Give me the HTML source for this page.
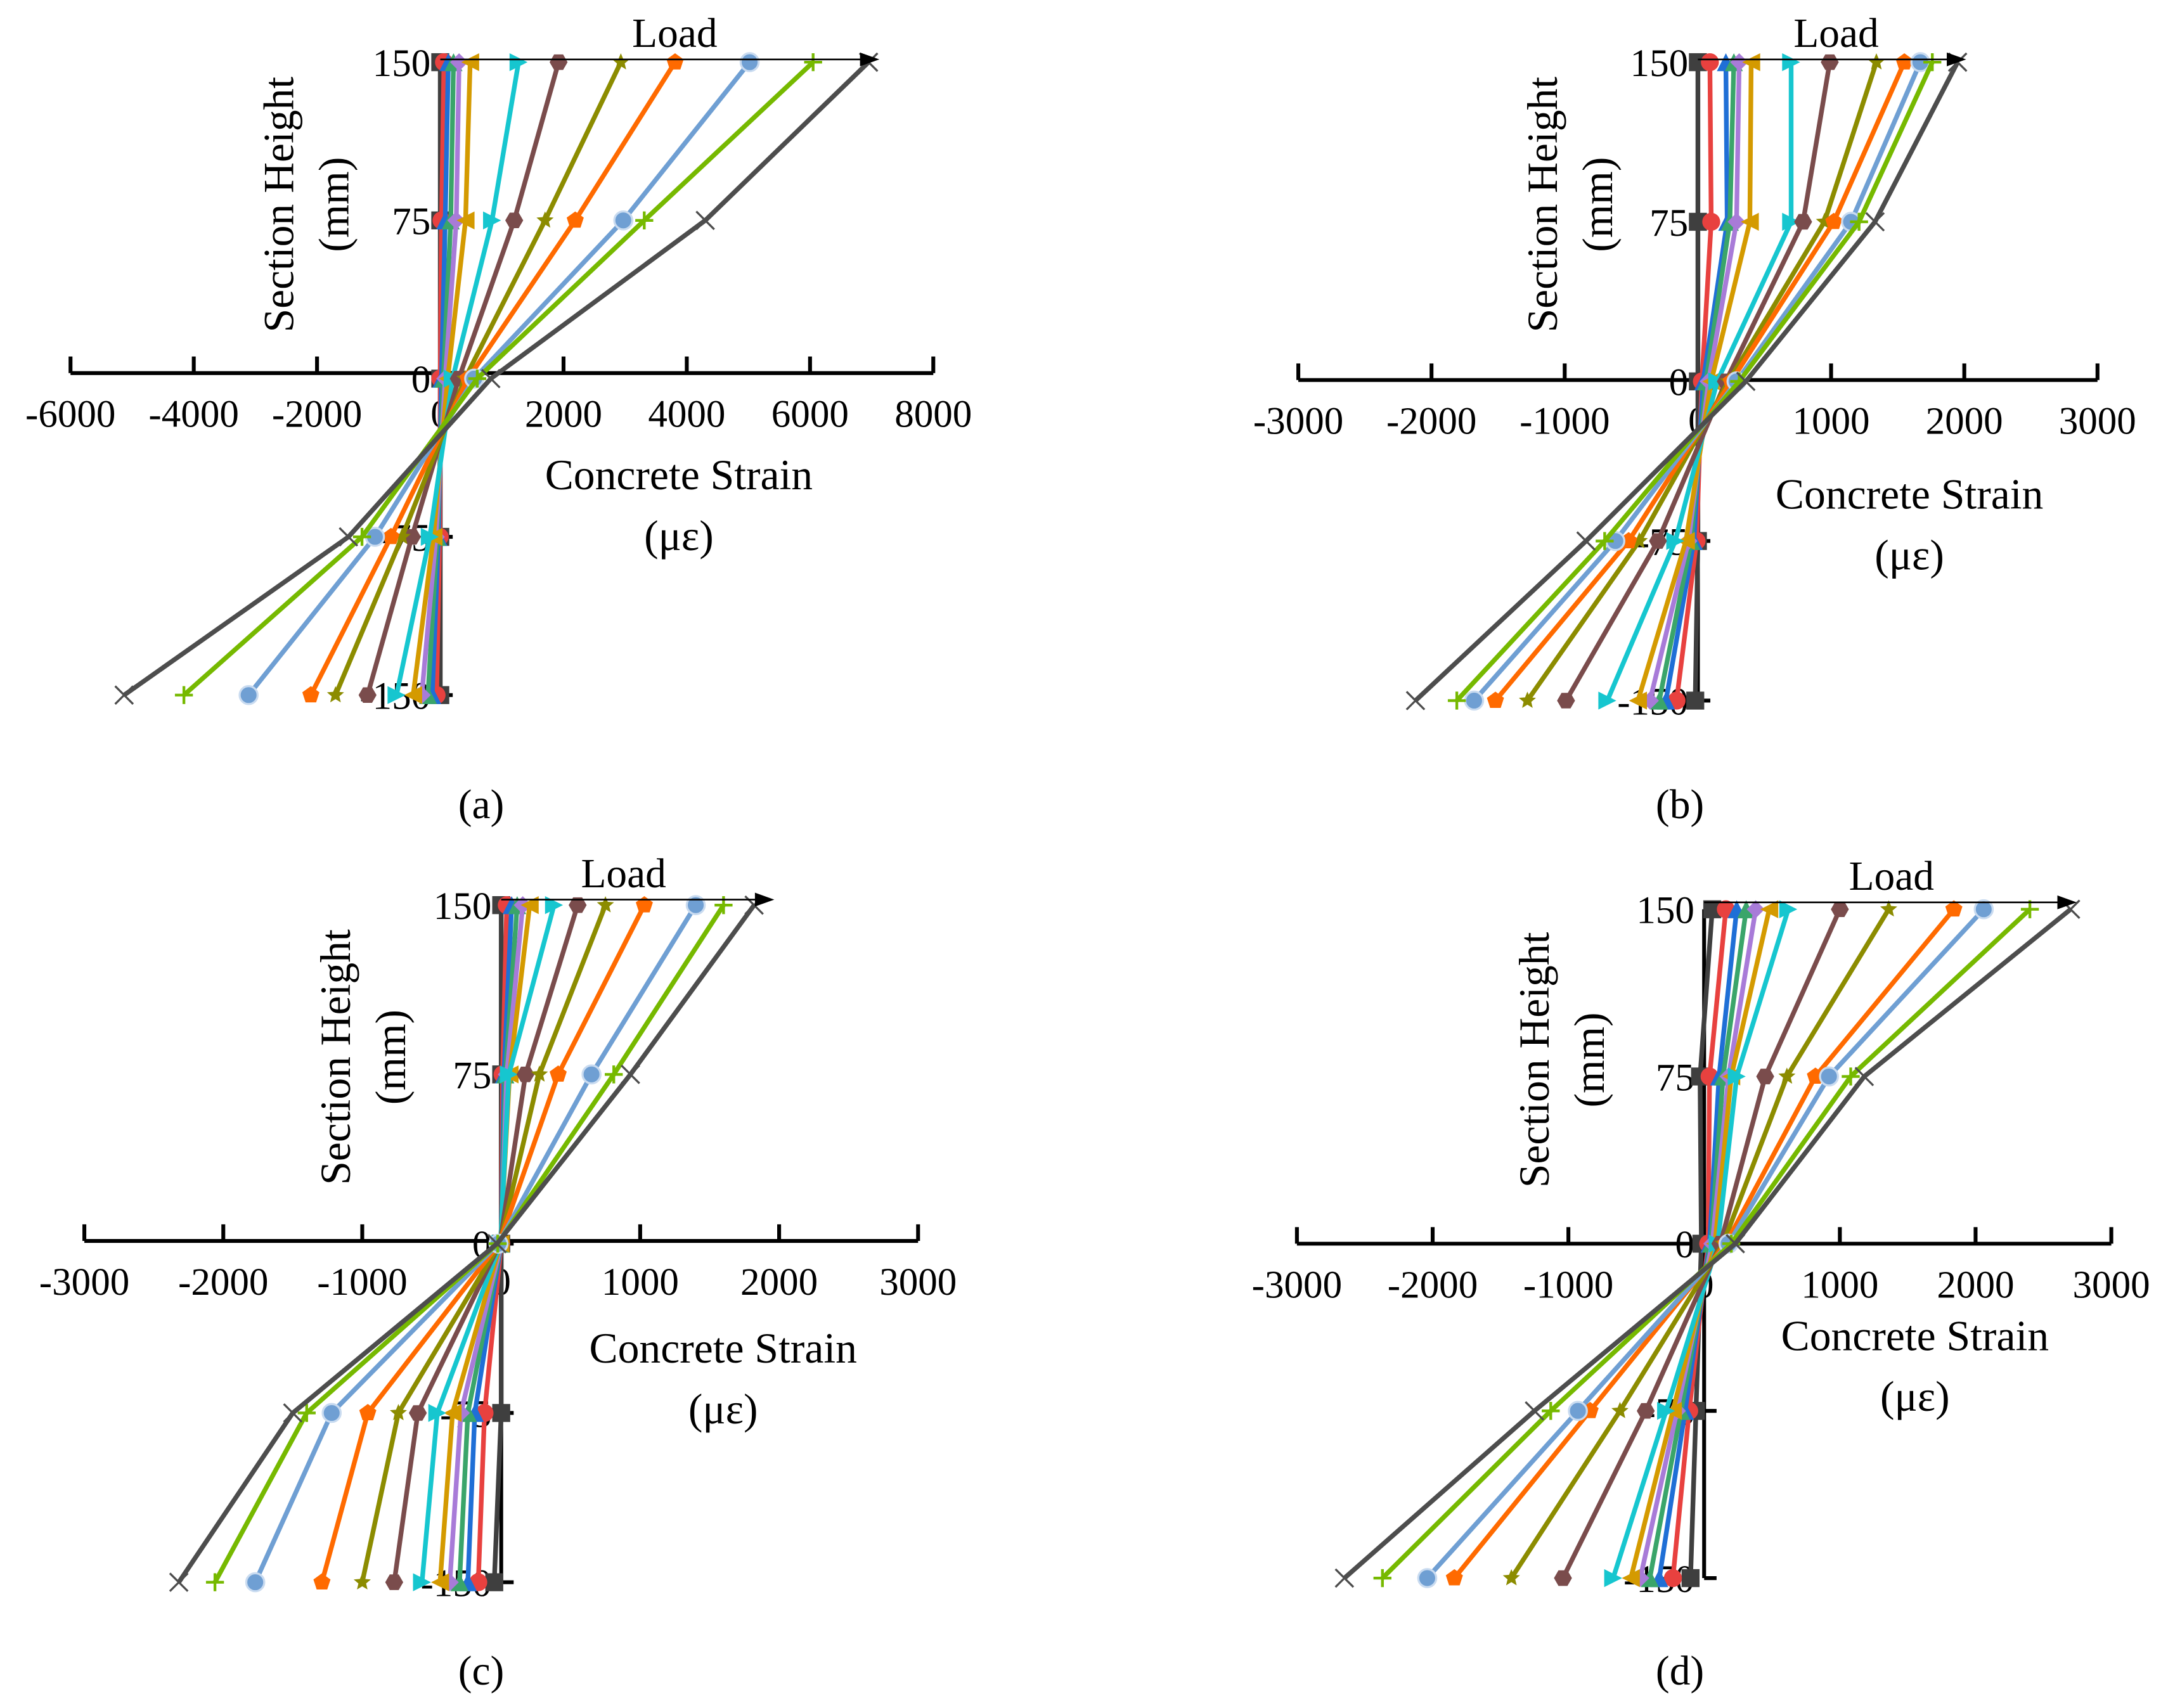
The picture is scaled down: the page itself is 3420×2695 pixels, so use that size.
<!DOCTYPE html>
<html><head><meta charset="utf-8">
<style>
html,body{margin:0;padding:0;background:#fff;}
svg{display:block;font-family:"Liberation Serif",serif;}
</style></head>
<body>
<svg id="fig" width="3420" height="2695" viewBox="0 0 1568 1236" preserveAspectRatio="none" xmlns="http://www.w3.org/2000/svg"></svg>
<script>
const heights = [150, 75, 0, -75, -150];
const seriesNames = ["s1","s2","s3","s4","s5","s6","s7","s8","s9","s10","s11","s12","s13"];
const seriesColors = ["#3f3f3f","#e8413f","#1f6fd6","#3aa56a","#a87bd8","#d49a00","#16c6cf","#7a4c4c","#8c8c00","#ff6a00","#6f9fd3","#76b900","#4d4d4d"];
const seriesMarkers = ["square","circle","triangle","triangle","diamond","tri-left","tri-right","hexagon","star","pentagon","sphere","plus","x"];
// strain values at heights [150,75,0,-75,-150] for each series
const dataA = [
 [0,0,0,0,0],
 [60,20,0,-10,-60],
 [130,80,20,-30,-130],
 [215,170,50,-50,-200],
 [305,260,80,-70,-300],
 [485,410,120,-110,-440],
 [1270,840,200,-170,-710],
 [1920,1200,300,-460,-1180],
 [2930,1700,400,-620,-1700],
 [3810,2190,450,-800,-2100],
 [5020,2970,550,-1060,-3110],
 [6050,3310,600,-1270,-4160],
 [6950,4300,820,-1490,-5130]
];
const dataB = [
 [0,0,0,0,-20],
 [90,100,30,-10,-160],
 [210,220,40,-30,-240],
 [270,240,60,-50,-290],
 [310,290,80,-70,-360],
 [400,390,100,-90,-450],
 [700,700,145,-170,-680],
 [990,790,210,-300,-990],
 [1340,950,230,-440,-1280],
 [1550,1020,250,-520,-1520],
 [1670,1150,290,-620,-1680],
 [1760,1210,310,-700,-1810],
 [1950,1330,360,-840,-2120]
];
const dataC = [
 [0,0,0,0,-50],
 [40,10,0,-120,-165],
 [75,20,0,-190,-240],
 [115,30,0,-240,-300],
 [155,40,0,-290,-370],
 [205,60,-5,-350,-440],
 [380,55,-5,-460,-570],
 [550,175,-10,-600,-770],
 [750,275,-10,-740,-1000],
 [1030,410,-15,-960,-1290],
 [1400,650,-20,-1220,-1770],
 [1600,810,-25,-1400,-2060],
 [1820,930,-30,-1500,-2320]
];
const dataD = [
 [60,-30,-20,-60,-100],
 [160,40,30,-110,-230],
 [240,110,40,-140,-330],
 [310,140,50,-170,-400],
 [380,180,60,-200,-470],
 [480,200,80,-230,-540],
 [620,240,100,-280,-670],
 [1000,450,120,-430,-1040],
 [1360,610,140,-620,-1420],
 [1840,820,160,-840,-1840],
 [2060,920,180,-930,-2040],
 [2400,1080,200,-1130,-2370],
 [2700,1180,230,-1250,-2650]
];
const ticksA = [-6000,-4000,-2000,0,2000,4000,6000,8000];
const ticksBCD = [-3000,-2000,-1000,0,1000,2000,3000];
const yTicks = [150,75,0,-75,-150];

const NS = "http://www.w3.org/2000/svg";
const svg = document.getElementById("fig");
function mk(tag, attrs, parent){
  const e = document.createElementNS(NS, tag);
  for (const k in attrs) e.setAttribute(k, attrs[k]);
  (parent||svg).appendChild(e);
  return e;
}
function marker(g, type, x, y, c){
  const r = 6.5;
  let e;
  if (type==="square") e = mk("rect",{x:x-r,y:y-r,width:2*r,height:2*r,fill:c},g);
  else if (type==="circle") e = mk("circle",{cx:x,cy:y,r:r,fill:c},g);
  else if (type==="sphere") e = mk("circle",{cx:x,cy:y,r:r,fill:c,stroke:"#c9dbf0","stroke-width":1.5},g);
  else if (type==="triangle") e = mk("polygon",{points:`${x},${y-r} ${x+r},${y+r} ${x-r},${y+r}`,fill:c},g);
  else if (type==="tri-left") e = mk("polygon",{points:`${x-r},${y} ${x+r},${y-r} ${x+r},${y+r}`,fill:c},g);
  else if (type==="tri-right") e = mk("polygon",{points:`${x+r},${y} ${x-r},${y-r} ${x-r},${y+r}`,fill:c},g);
  else if (type==="diamond") e = mk("polygon",{points:`${x},${y-r} ${x+r},${y} ${x},${y+r} ${x-r},${y}`,fill:c},g);
  else if (type==="hexagon"){ let p=[];for(let i=0;i<6;i++){const a=Math.PI/3*i;p.push((x+r*Math.cos(a))+","+(y+r*Math.sin(a)));} e = mk("polygon",{points:p.join(" "),fill:c},g);}
  else if (type==="pentagon"){ let p=[];for(let i=0;i<5;i++){const a=-Math.PI/2+2*Math.PI/5*i;p.push((x+r*Math.cos(a))+","+(y+r*Math.sin(a)));} e = mk("polygon",{points:p.join(" "),fill:c},g);}
  else if (type==="star"){ let p=[];for(let i=0;i<10;i++){const a=-Math.PI/2+Math.PI/5*i;const rr=i%2?r*0.45:r;p.push((x+rr*Math.cos(a))+","+(y+rr*Math.sin(a)));} e = mk("polygon",{points:p.join(" "),fill:c},g);}
  else if (type==="plus") e = mk("path",{d:`M${x-r} ${y}H${x+r}M${x} ${y-r}V${y+r}`,stroke:c,"stroke-width":2},g);
  else e = mk("path",{d:`M${x-r} ${y-r}L${x+r} ${y+r}M${x-r} ${y+r}L${x+r} ${y-r}`,stroke:c,"stroke-width":1.5},g);
  
  
}
function txt(g, s, x, y, size, anchor, name, rot){
  const t = mk("text",{x:x,y:y,"font-size":size,"text-anchor":anchor||"middle",fill:"#000"},g);
  if (rot) t.setAttribute("transform",`rotate(-90 ${x} ${y})`);
  t.textContent = s;
  
  
  return t;
}
function panel(cfg){
  const g = mk("g",{});
  
  
  const sx = v => cfg.x0 + (v - cfg.ticks[0])/(cfg.ticks[cfg.ticks.length-1]-cfg.ticks[0])*(cfg.x1-cfg.x0);
  const sy = h => cfg.yZero - h/150*(cfg.yZero-cfg.yTop);
  const ax = mk("line",{x1:sx(cfg.ticks[0]),x2:sx(cfg.ticks[cfg.ticks.length-1]),y1:cfg.axisY,y2:cfg.axisY,stroke:"#000","stroke-width":2.8},g);
   
  cfg.ticks.forEach(t=>{
    const tk = mk("line",{x1:sx(t),x2:sx(t),y1:cfg.axisY,y2:cfg.axisY-12,stroke:"#000","stroke-width":2.8},g);
     
    txt(g, String(t), sx(t), cfg.axisY+39, 28, "middle", "x-tick-label");
  });
  const ya = mk("line",{x1:sx(0),x2:sx(0),y1:sy(150),y2:sy(-150),stroke:"#000","stroke-width":2.8},g);
   
  yTicks.forEach(h=>{
    const tk = mk("line",{x1:sx(0),x2:sx(0)+9,y1:sy(h),y2:sy(h),stroke:"#000","stroke-width":2.8},g);
     
    txt(g, String(h), sx(0)-7, sy(h)+10, 28, "end", "y-tick-label");
  });
  cfg.data.forEach((vals,i)=>{
    const sg = mk("g",{},g);
    
    
    const pts = vals.map((v,j)=>sx(v)+","+sy(heights[j])).join(" ");
    const pl = mk("polyline",{points:pts,fill:"none",stroke:seriesColors[i],"stroke-width":3.4,"stroke-linejoin":"round"},sg);
     
    vals.forEach((v,j)=>marker(sg, seriesMarkers[i], sx(v), sy(heights[j]), seriesColors[i]));
  });
  const la = mk("line",{x1:sx(0),x2:cfg.arrowEnd-10,y1:cfg.arrowY,y2:cfg.arrowY,stroke:"#000","stroke-width":1.2},g);
   
  const ah = mk("polygon",{points:`${cfg.arrowEnd},${cfg.arrowY} ${cfg.arrowEnd-14},${cfg.arrowY-5} ${cfg.arrowEnd-14},${cfg.arrowY+5}`,fill:"#000"},g);
   
  txt(g, "Load", cfg.loadX, cfg.arrowY-9, 30, "middle", "load-label");
  txt(g, "Section Height", cfg.shX, cfg.shY, 31, "middle", "y-axis-title", true);
  txt(g, "(mm)", cfg.shX+40, cfg.shY, 31, "middle", "y-axis-unit", true);
  txt(g, "Concrete Strain", cfg.csX, cfg.csY, 31, "middle", "x-axis-title");
  txt(g, "(με)", cfg.csX, cfg.csY+44, 31, "middle", "x-axis-unit");
  txt(g, "("+cfg.id+")", cfg.labX, cfg.labY, 30, "middle", "panel-label");
}
panel({id:"a",data:dataA,ticks:ticksA,x0:51,x1:675,axisY:270,yTop:45,yZero:274,arrowY:43,arrowEnd:636,loadX:488,shX:212,shY:148,csX:491,csY:354,labX:348,labY:592});
panel({id:"b",data:dataB,ticks:ticksBCD,x0:939,x1:1517,axisY:275,yTop:45,yZero:276,arrowY:43,arrowEnd:1422,loadX:1328,shX:1126,shY:148,csX:1381,csY:368,labX:1215,labY:592});
panel({id:"c",data:dataC,ticks:ticksBCD,x0:61,x1:664,axisY:898,yTop:655,yZero:900,arrowY:651,arrowEnd:560,loadX:451,shX:253,shY:765,csX:523,csY:986,labX:348,labY:1219});
panel({id:"d",data:dataD,ticks:ticksBCD,x0:938,x1:1527,axisY:900,yTop:658,yZero:900,arrowY:653,arrowEnd:1502,loadX:1368,shX:1120,shY:767,csX:1385,csY:977,labX:1215,labY:1219});
</script>
</body></html>
